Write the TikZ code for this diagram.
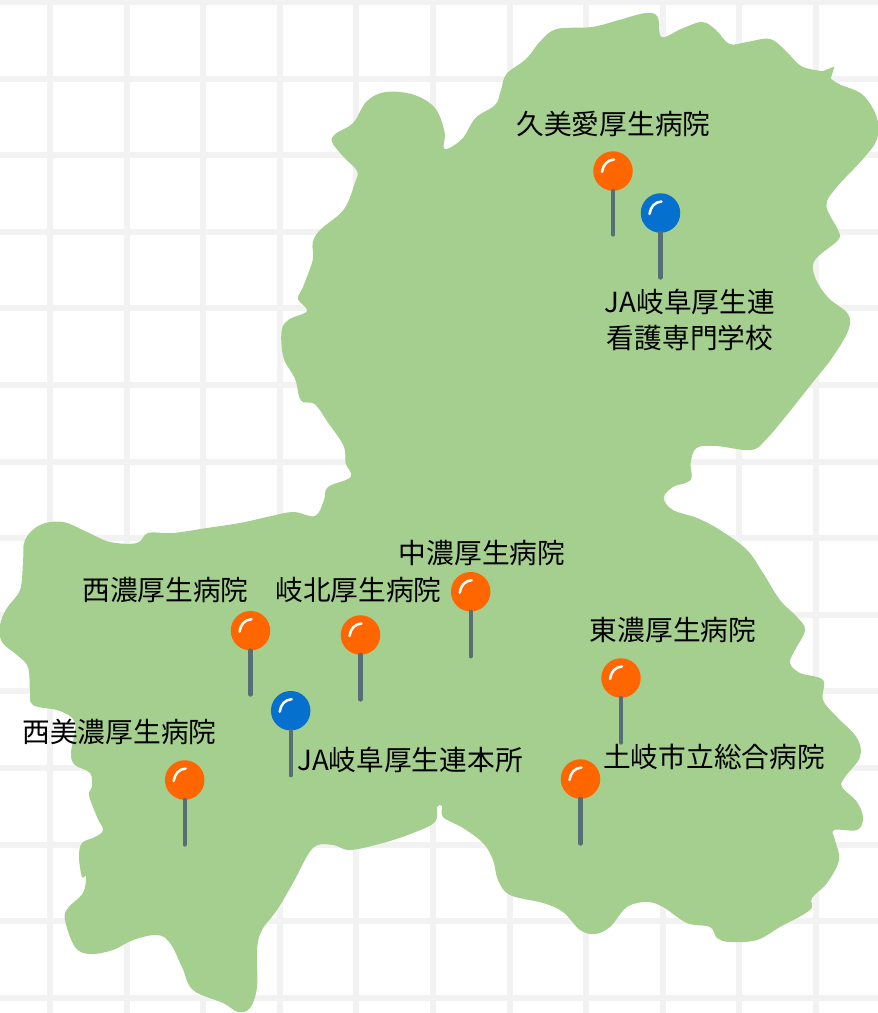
\documentclass[tikz,border=0pt]{standalone}
\usepackage{fontspec}
\setmainfont{Noto Sans CJK JP}
\definecolor{gridc}{HTML}{F3F2F3}
\definecolor{land}{HTML}{A5CF8E}
\definecolor{pinorange}{HTML}{FF6600}
\definecolor{pinblue}{HTML}{0670CF}
\definecolor{stemc}{HTML}{566F75}
\tikzset{
  gridline/.style={gridc,line width=6pt},
  pinhead/.style={circle,inner sep=0pt,minimum size=39.5pt},
  pinstem/.style={stemc,line width=4.4pt,line cap=round},
  pinshine/.style={white,line width=2.5pt,line cap=round},
  maplabel/.style={inner sep=0pt,text=black,font=\fontsize{27.7}{33}\selectfont,align=center,anchor=center}
}
\newcommand{\mappin}[5]{%
  \coordinate (#1tip) at (#2,#4-1.5);
  \node[pinhead,fill=#5] (#1) at (#2,#3) {};
  \draw[pinstem] (#1.south) -- (#1tip);
  \draw[pinshine] ([shift={(-11,1)}]#1.center) .. controls ([shift={(-10,-6)}]#1.center) and ([shift={(-6,-11)}]#1.center) .. ([shift={(1,-11.5)}]#1.center);
}
\begin{document}
\begin{tikzpicture}[x=1pt,y=-1pt]
\path[use as bounding box,fill=white] (0,0) rectangle (878,1013);
\foreach \k in {0,...,10}{\draw[gridline] ({50+76.6*\k},0) -- ({50+76.6*\k},1013);}
\foreach \k in {0,...,13}{\draw[gridline] (0,{2+76.6*\k}) -- (878,{2+76.6*\k});}
\fill[land] plot[smooth cycle,tension=0.6] coordinates {
(661.6,37)(657.7,17)(646,13)(619,20)(592,27)(557,29)(541,40.5)(526,59)(506.5,74)(500.7,91)(495,105)(475.5,118)(462,139)(444.5,149)
(444.5,132)(435,108)(413.5,94.7)(386,92)(367,101)(353,123)(336,133.5)(332,142)(343.7,157)(357,171)(355,182.5)(343.7,209.6)(320,230)
(312.7,243)(312.7,260)(303,287)(298,299)(307,311)(289,319.5)(281.6,331)(283.6,358)(295,378.6)(301,400.6)(314.6,404)(328,422.6)
(343.7,446)(345.6,463)(350.7,477)(328,487)(324,500)(315,516)(293,512)(267,517)(240,523)(207,528)(173,533)(148,533)(137,543)(110,542)
(87,532)(63,522)(40,525)(25,540)(23,563)(20,590)(7,608)(0,625)(2,642)(17,655)(28,667)(30,690)(33,705)(60,711)(75,723)(71,753)(75,765)
(90,773)(92,787)(89,795)(97,817)(103,830)(95,837)(82,843)(79,857)(82,877)(86,876)(83,893)(68,908)(65,920)(75,947)(90,954)(113,950)
(133,940)(157,935)(170,943)(182,967)(193,990)(223,1003)(238,1012)(250,1008)(257,987)(257,950)(262,930)(277,910)(293,883)(313,848)
(333,845)(350,850)(383,843)(413,833)(435,822)(437,807)(442,806)(443,817)(463,828)(483,843)(493,860)(498,880)(510,895)(543,903)
(563,912)(580,930)(595,934)(610,927)(627,907)(647,902)(663,907)(687,923)(710,927)(717,938)(730,942)(757,940)(780,927)(810,910)
(812,898)(827,883)(839,860)(835,840)(834,830)(857,830)(863,818)(857,802)(842,787)(845,777)(860,757)(857,738)(837,717)(823,700)
(823,680)(800,673)(790,663)(795,650)(805,630)(797,617)(780,600)(763,573)(747,550)(720,530)(697,518)(673,510)(663.6,498)(673,487)
(690.7,480)(690.7,463)(696.5,448)(716,446)(751,450)(766,439.5)(786,416)(813,382)(832,358)(848,331)(848,314)(828,297.5)(815,277)
(815,260)(838,240)(838,230)(826.4,206)(836,188)(863,159)(877,139)(877,118)(863,95)(840,84.5)(830,78)(826,72)(820.6,71)(801,66)
(786,51)(770,39)(747,42)(729.5,44)(716,30)(702,22)(681,29)
};
\fill[land] (818,73) -- (834.5,66.5) -- (829,84) -- cycle;
\mappin{kumiai}{613}{171}{236}{pinorange}
\mappin{kango}{660.5}{213}{279}{pinblue}
\mappin{seino}{250.5}{630.7}{696}{pinorange}
\mappin{gihoku}{360.5}{635}{701}{pinorange}
\mappin{chuno}{470.7}{591.7}{657.7}{pinorange}
\mappin{tono}{621}{678}{744}{pinorange}
\mappin{toki}{580.5}{779}{845}{pinorange}
\mappin{nishimino}{184.7}{780}{846}{pinorange}
\mappin{honsho}{290.7}{710.7}{776.7}{pinblue}
\node[maplabel] (lkumiai) at (613.5,124) {久美愛厚生病院};
\node[maplabel] (lkango) at (690,320) {JA岐阜厚生連\\[2.5pt]看護専門学校};
\node[maplabel] (lchuno) at (482,552.5) {中濃厚生病院};
\node[maplabel] (lseino) at (165.5,589.5) {西濃厚生病院};
\node[maplabel] (lgihoku) at (358.5,589.5) {岐北厚生病院};
\node[maplabel] (ltono) at (673,629.5) {東濃厚生病院};
\node[maplabel] (lnishimino) at (119.5,731.5) {西美濃厚生病院};
\node[maplabel] (lhonsho) at (410,759.5) {JA岐阜厚生連本所};
\node[maplabel] (ltoki) at (714,756.5) {土岐市立総合病院};
\end{tikzpicture}
\end{document}
